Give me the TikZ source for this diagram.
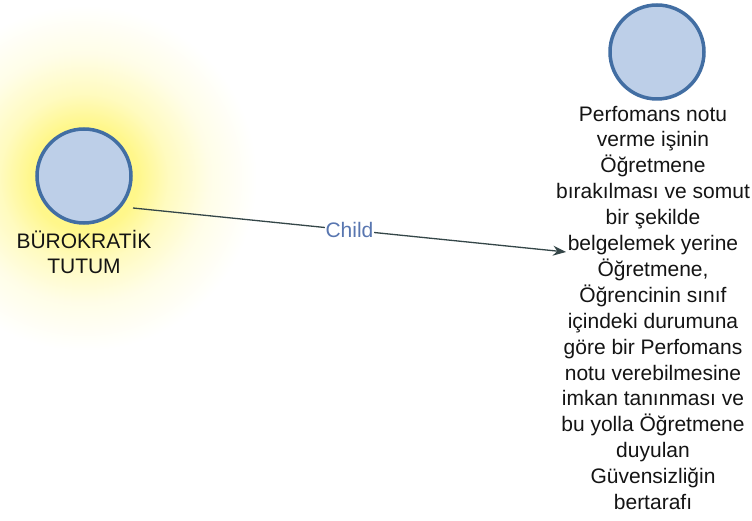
\documentclass[tikz,border=0pt]{standalone}
\usepackage{fontspec}
\setmainfont{Liberation Sans}
\usetikzlibrary{arrows.meta}
\definecolor{nodefill}{RGB}{189,207,232}
\definecolor{nodeline}{RGB}{66,110,163}
\definecolor{edgecol}{RGB}{52,70,72}
\definecolor{labelcol}{RGB}{88,118,176}
\definecolor{glowcol}{RGB}{255,247,138}
% soft yellow halo around the selected topic; the shaded square has a
% half side of 600pt, so 1bp of the shading is 24pt of the picture
\pgfdeclareradialshading{halo}{\pgfpoint{0bp}{0bp}}{color(0bp)=(glowcol); color(2.2bp)=(glowcol); color(3.5bp)=(glowcol!55); color(5.2bp)=(glowcol!20); color(7.2bp)=(white); color(50bp)=(white)}

\begin{document}
\begin{tikzpicture}[x=1pt,y=-1pt,
  topic/.style={circle, draw=nodeline, line width=3.5pt, fill=nodefill, minimum size=94pt, inner sep=0pt},
  caption/.style={align=center, font=\fontsize{21}{25.9}\selectfont, text=black!92, inner sep=0pt},
  edge/.style={draw=edgecol, line width=1.3pt, -{Stealth[length=13pt,width=10pt]}},
  edgelabel/.style={fill=white, text=labelcol, font=\fontsize{21}{24}\selectfont, inner sep=1pt}]
\useasboundingbox (0,0) rectangle (752,521);
\fill[shading=halo] (-516,-422) rectangle (684,778);

% parent topic (caption anchored at the baseline of its last line)
\node[topic] (bur) at (84,176) {};
\node[caption, anchor=base] (burlbl) at (84,274) {BÜROKRATİK\\TUTUM};

% child topic
\node[topic] (perf) at (657,52) {};
\node[caption, anchor=base] (perftxt) at (653,509.5) {Perfomans notu\\verme işinin\\Öğretmene\\bırakılması ve somut\\bir şekilde\\belgelemek yerine\\Öğretmene,\\Öğrencinin sınıf\\içindeki durumuna\\göre bir Perfomans\\notu verebilmesine\\imkan tanınması ve\\bu yolla Öğretmene\\duyulan\\Güvensizliğin\\bertarafı};

% relation
\coordinate (src) at (133,208);
\coordinate (dst) at (566,252);
\draw[edge] (src) -- node[edgelabel] (rel) {Child} (dst);
\end{tikzpicture}
\end{document}
